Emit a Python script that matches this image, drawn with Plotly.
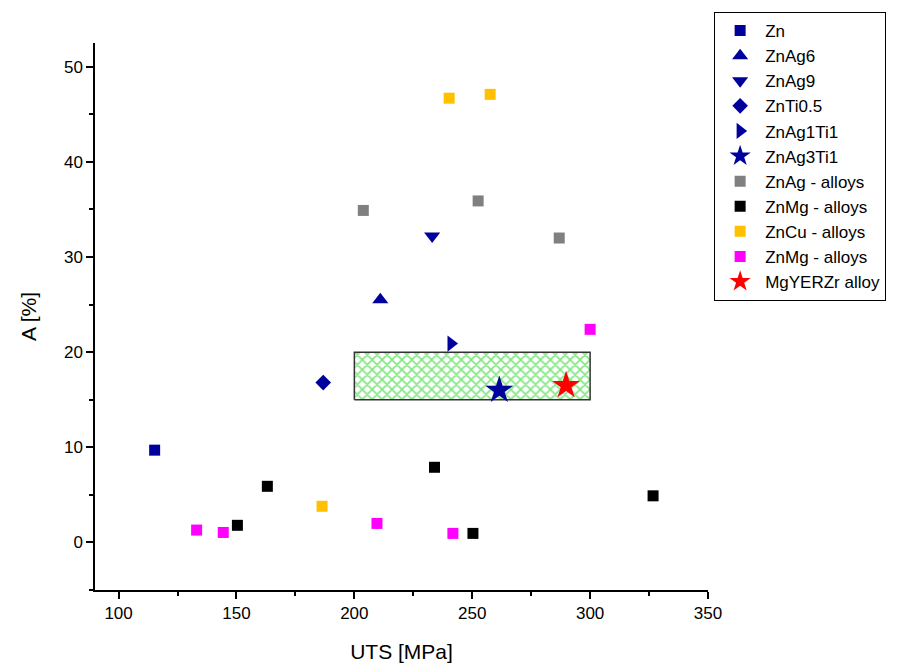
import plotly.graph_objects as go

# ---- data ----
zn_x = [115.3]; zn_y = [9.7]
znag6_x = [211]; znag6_y = [25.5]
znag9_x = [233]; znag9_y = [32.2]
znti_x = [186.8]; znti_y = [16.8]
znag1ti1_x = [241]; znag1ti1_y = [20.9]
znag3ti1_x = [261.5]; znag3ti1_y = [16.0]
znag_alloys_x = [203.8, 252.5, 286.9]; znag_alloys_y = [34.9, 35.9, 32.0]
znmg_alloys_x = [150.4, 163.1, 234.0, 250.3, 326.7]; znmg_alloys_y = [1.8, 5.9, 7.9, 0.95, 4.9]
zncu_alloys_x = [186.3, 240.2, 257.6]; zncu_alloys_y = [3.8, 46.7, 47.1]
znmg2_alloys_x = [133.1, 144.4, 209.6, 241.8, 300.0]; znmg2_alloys_y = [1.3, 1.05, 2.0, 0.95, 22.4]
mgyerzr_x = [289.8]; mgyerzr_y = [16.5]

target_uts = [200, 300]   # target window of UTS
target_a = [15, 20]       # target window of elongation

NAVY = "#00009C"
FONT = "Liberation Sans, Arial, sans-serif"

fig = go.Figure()

# target region (hatched rectangle)
fig.add_trace(go.Scatter(
    x=[target_uts[0], target_uts[1], target_uts[1], target_uts[0], target_uts[0]],
    y=[target_a[0], target_a[0], target_a[1], target_a[1], target_a[0]],
    mode="lines", fill="toself",
    line=dict(color="#333333", width=1.5),
    fillcolor="rgba(0,0,0,0)",
    fillpattern=dict(shape="x", fgcolor="#00CC00", bgcolor="white", size=7, solidity=0.4),
    showlegend=False, hoverinfo="skip"))

def add(name, xs, ys, symbol, color, size):
    fig.add_trace(go.Scatter(x=xs, y=ys, mode="markers", name=name,
                             marker=dict(symbol=symbol, color=color, size=size,
                                         line=dict(width=0))))

add("Zn", zn_x, zn_y, "square", NAVY, 11)
add("ZnAg6", znag6_x, znag6_y, "triangle-up", NAVY, 14)
add("ZnAg9", znag9_x, znag9_y, "triangle-down", NAVY, 14)
add("ZnTi0.5", znti_x, znti_y, "diamond", NAVY, 12)
add("ZnAg1Ti1", znag1ti1_x, znag1ti1_y, "triangle-right", NAVY, 14)
add("ZnAg3Ti1", znag3ti1_x, znag3ti1_y, "star", NAVY, 21)
add("ZnAg - alloys", znag_alloys_x, znag_alloys_y, "square", "#808080", 11)
add("ZnMg - alloys", znmg_alloys_x, znmg_alloys_y, "square", "#000000", 11)
add("ZnCu - alloys", zncu_alloys_x, zncu_alloys_y, "square", "#FFC000", 11)
add("ZnMg - alloys ", znmg2_alloys_x, znmg2_alloys_y, "square", "#FF00FF", 11)
add("MgYERZr alloy", mgyerzr_x, mgyerzr_y, "star", "#FF0000", 21)

axis_common = dict(showline=True, linecolor="black", linewidth=1.5, mirror=False,
                   ticks="outside", ticklen=7, tickwidth=1.5, tickcolor="black",
                   showgrid=False, zeroline=False,
                   tickfont=dict(family=FONT, size=17, color="black"))

fig.update_xaxes(range=[90, 350], dtick=50, tick0=0,
                 title=dict(text="UTS [MPa]", font=dict(family=FONT, size=21, color="black"), standoff=22),
                 minor=dict(ticks="outside", ticklen=4, tickwidth=1.5, tickcolor="black", dtick=25, tick0=0),
                 **axis_common)
fig.update_yaxes(range=[-5, 52.5], dtick=10, tick0=0,
                 title=dict(text="A [%]", font=dict(family=FONT, size=21, color="black"), standoff=22),
                 minor=dict(ticks="outside", ticklen=4, tickwidth=1.5, tickcolor="black", dtick=5, tick0=0),
                 **axis_common)

fig.update_layout(
    width=897, height=665,
    margin=dict(l=87, r=197, t=35, b=83, autoexpand=False),
    plot_bgcolor="white", paper_bgcolor="white",
    font=dict(family=FONT, color="black"),
    legend=dict(x=1.01, xanchor="left", y=1.0567, yanchor="top",
                bordercolor="black", borderwidth=1, bgcolor="white",
                font=dict(family=FONT, size=17, color="black"),
                itemsizing="trace", itemwidth=40, tracegroupgap=0),
)

fig.write_html("out.html")
